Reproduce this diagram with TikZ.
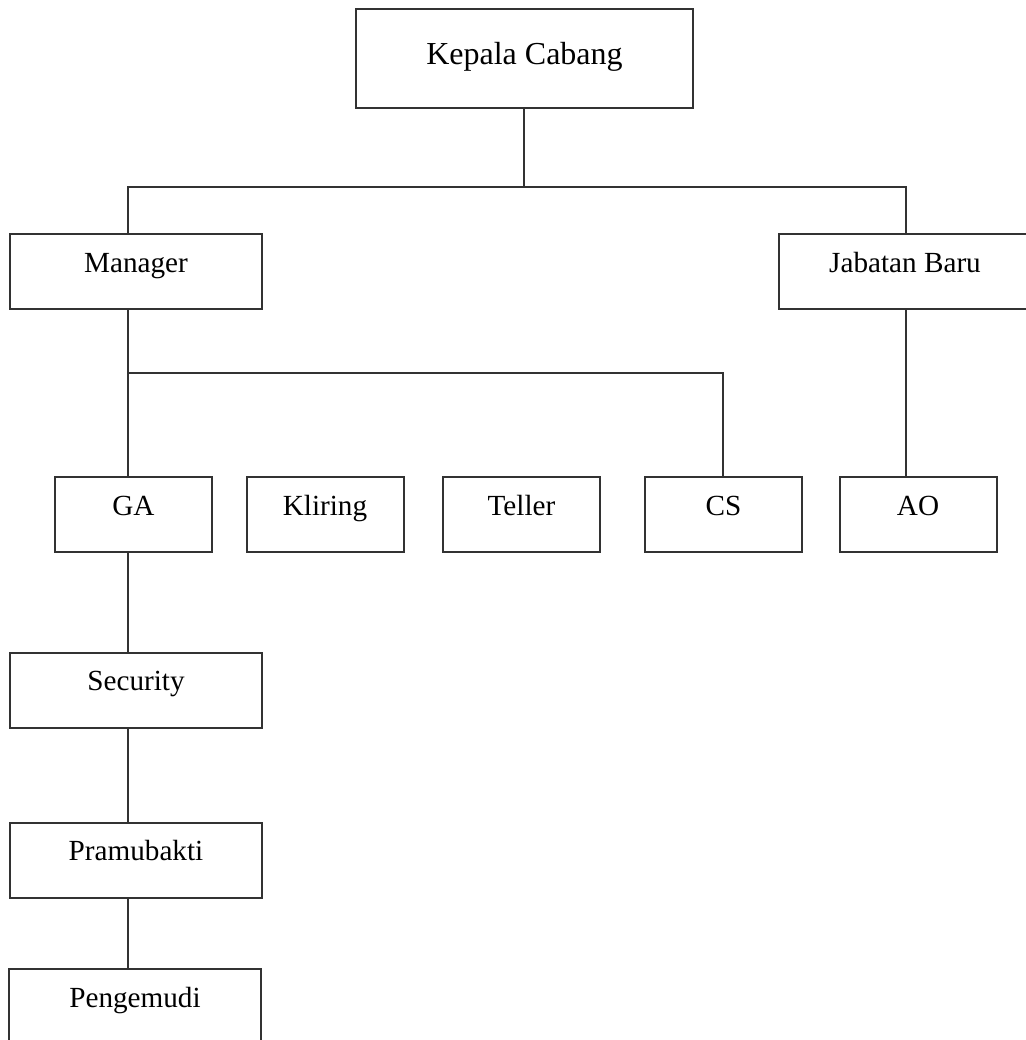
\documentclass[tikz,border=0pt]{standalone}
\usepackage{fontspec}
\setmainfont{Liberation Serif}
\usetikzlibrary{positioning}
\definecolor{lineink}{RGB}{50, 50, 50}

\begin{document}
\begin{tikzpicture}[x=0.5pt, y=-0.5pt,
  unit/.style={draw=lineink, line width=1pt, inner xsep=2pt, inner ysep=0pt,
    text height=19pt, text depth=18.5pt, font=\fontsize{14.6}{17}\selectfont},
  wideunit/.style={unit, minimum width=126pt},
  smallunit/.style={unit, minimum width=78.5pt},
  link/.style={draw=lineink, line width=1pt}]
  \useasboundingbox (0,0) rectangle (1026,1040);

  % Head of branch
  \node[unit, minimum width=168.5pt, text height=27.5pt, text depth=22pt,
    font=\fontsize{16}{19}\selectfont] (kepala) at (524.5, 58.5) {Kepala Cabang};

  % Second level
  \node[wideunit] (manager) at (136, 271.5) {Manager};
  \node[wideunit] (jabatan) at (905, 271.5) {Jabatan Baru};

  % Third level
  \node[smallunit] (ga) at (133.5, 514.5) {GA};
  \node[smallunit] (kliring) at (325, 514.5) {Kliring};
  \node[smallunit] (teller) at (521.5, 514.5) {Teller};
  \node[smallunit] (cs) at (723.5, 514.5) {CS};
  \node[smallunit] (ao) at (918, 514.5) {AO};

  % Under GA
  \node[wideunit] (security) at (136, 690) {Security};
  \node[wideunit] (pramubakti) at (136, 860) {Pramubakti};
  \node[wideunit] (pengemudi) at (135, 1006.5) {Pengemudi};

  % Branch points
  \coordinate (kctap) at (524, 187);
  \coordinate (mgrtap) at (128, 187);
  \coordinate (jbtap) at (906, 187);
  \coordinate (gatap) at (128, 373);
  \coordinate (cstap) at (723, 373);

  % Connectors
  \draw[link] (kctap |- kepala.south) -- (kctap);
  \draw[link] (mgrtap |- manager.north) -- (mgrtap) -- (jbtap) -- (jbtap |- jabatan.north);
  \draw[link] (gatap |- manager.south) -- (gatap |- ga.north);
  \draw[link] (gatap) -- (cstap) -- (cstap |- cs.north);
  \draw[link] (jbtap |- jabatan.south) -- (jbtap |- ao.north);
  \draw[link] (gatap |- ga.south) -- (gatap |- security.north);
  \draw[link] (gatap |- security.south) -- (gatap |- pramubakti.north);
  \draw[link] (gatap |- pramubakti.south) -- (gatap |- pengemudi.north);
\end{tikzpicture}
\end{document}
